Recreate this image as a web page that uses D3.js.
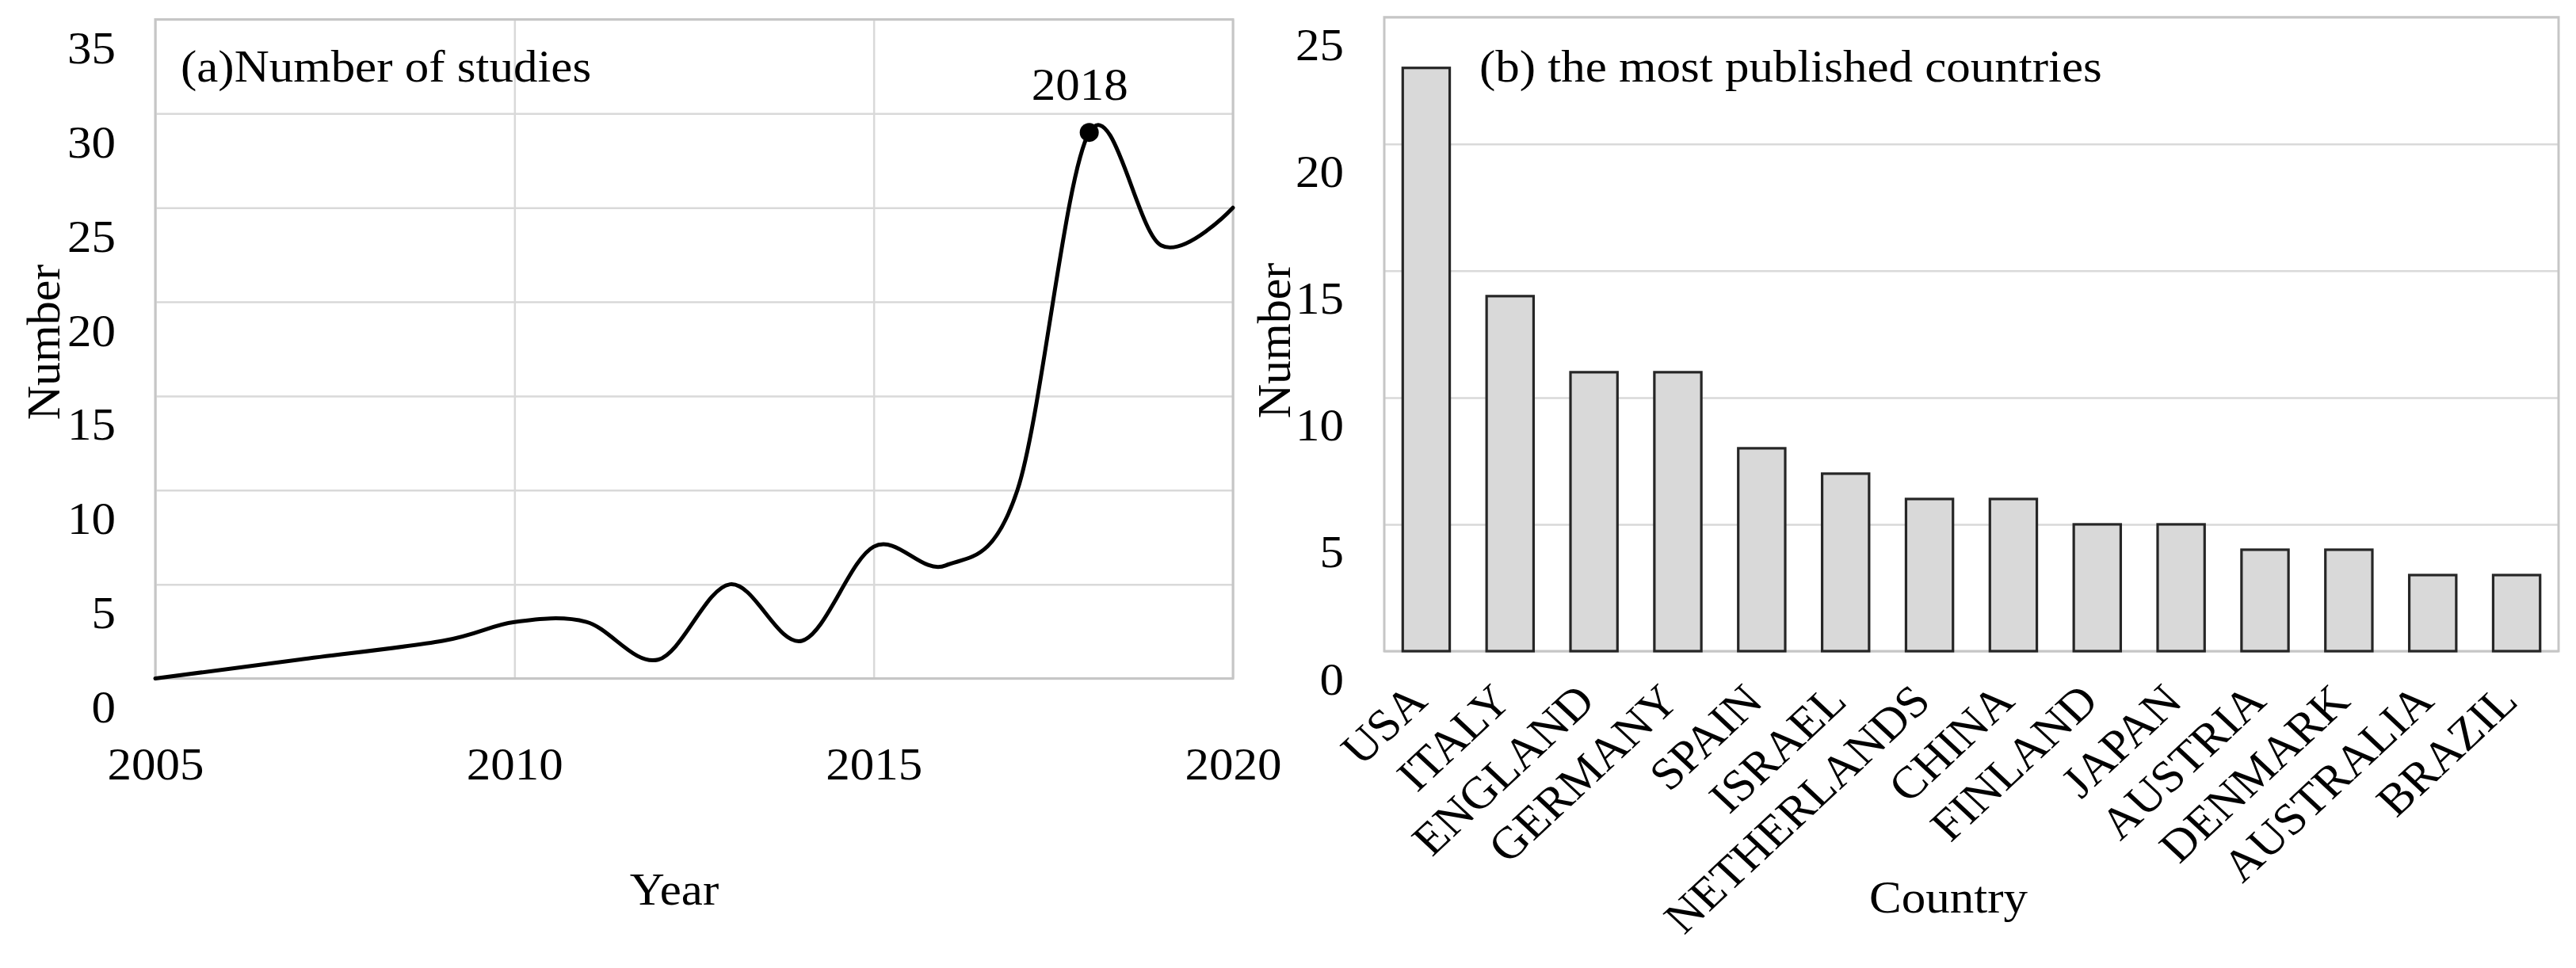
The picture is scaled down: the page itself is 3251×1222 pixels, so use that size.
<!DOCTYPE html>
<html>
<head>
<meta charset="utf-8">
<script src="https://cdn.jsdelivr.net/npm/d3@7"></script>
<style>
  html, body { margin: 0; padding: 0; background: #fff; }
  svg { display: block; }
  text { font-family: "Liberation Serif", "Times New Roman", serif; fill: #000; }
</style>
</head>
<body>
<svg id="chart" width="3251" height="1222"></svg>
<script>
// ---------- data ----------
const years   = [2005, 2007, 2009, 2010, 2011, 2012, 2013, 2014, 2015, 2016, 2017, 2018, 2019, 2020];
const studies = [0, 1, 2, 3, 3, 1, 5, 2, 7, 6, 10, 29, 23, 25];
const yearTicks = [2005, 2010, 2015, 2020];
const studyTicks = [0, 5, 10, 15, 20, 25, 30, 35];

const countries = ["USA", "ITALY", "ENGLAND", "GERMANY", "SPAIN", "ISRAEL", "NETHERLANDS",
                   "CHINA", "FINLAND", "JAPAN", "AUSTRIA", "DENMARK", "AUSTRALIA", "BRAZIL"];
const countryCounts = [23, 14, 11, 11, 8, 7, 6, 6, 5, 5, 4, 4, 3, 3];
const countTicks = [0, 5, 10, 15, 20, 25];

// ---------- setup ----------
const svg = d3.select("#chart");
svg.append("rect").attr("width", 3251).attr("height", 1222).attr("fill", "#fff");

const SX = 1.07;           // horizontal text stretch of the original
const FS = 57;             // base font size
const gridColor = "#d9d9d9";
const borderColor = "#c6c6c6";

function styleAxis(g) {
  g.select(".domain").remove();
  g.selectAll(".tick line").attr("stroke", gridColor).attr("stroke-width", 2.5);
  g.selectAll(".tick text").attr("font-size", FS).attr("fill", "#000");
}

// ================= (a) line chart =================
const A = {left: 196, right: 1556, top: 24.5, bottom: 856.5};
const xA = d3.scaleLinear().domain([2005, 2020]).range([A.left, A.right]);
const yA = d3.scaleLinear().domain([0, 35]).range([A.bottom, A.top]);

const gA = svg.append("g");

const yAxisA = gA.append("g")
  .attr("transform", `translate(${A.left},0)`)
  .call(d3.axisLeft(yA).tickValues(studyTicks).tickSize(-(A.right - A.left)).tickFormat(d3.format("d")));
styleAxis(yAxisA);
yAxisA.selectAll(".tick text")
  .attr("x", 0).attr("dy", null)
  .attr("text-anchor", "end")
  .attr("transform", `translate(-50,55) scale(${SX},1)`);

const xAxisA = gA.append("g")
  .attr("transform", `translate(0,${A.bottom})`)
  .call(d3.axisBottom(xA).tickValues(yearTicks).tickSize(-(A.bottom - A.top)).tickFormat(d3.format("d")));
styleAxis(xAxisA);
xAxisA.selectAll(".tick text")
  .attr("y", 0).attr("dy", null)
  .attr("text-anchor", "middle")
  .attr("transform", `translate(0,127.5) scale(${SX},1)`);

gA.append("rect")
  .attr("x", A.left).attr("y", A.top)
  .attr("width", A.right - A.left).attr("height", A.bottom - A.top)
  .attr("fill", "none").attr("stroke", borderColor).attr("stroke-width", 3);

const ptsA = years.map((yr, i) => ({year: yr, value: studies[i]}));
const line = d3.line()
  .x(d => xA(d.year)).y(d => yA(d.value))
  .curve(d3.curveCardinal.tension(0));
gA.append("path")
  .datum(ptsA)
  .attr("d", line)
  .attr("fill", "none").attr("stroke", "#000").attr("stroke-width", 5)
  .attr("stroke-linejoin", "round").attr("stroke-linecap", "round");

const maxPt = ptsA.reduce((a, b) => (b.value > a.value ? b : a));
gA.append("circle")
  .attr("cx", xA(maxPt.year)).attr("cy", yA(maxPt.value)).attr("r", 12).attr("fill", "#000");
gA.append("text")
  .attr("text-anchor", "middle").attr("font-size", FS)
  .attr("transform", `translate(${xA(maxPt.year) - 12},${yA(maxPt.value) - 41}) scale(${SX},1)`)
  .text(String(maxPt.year));

gA.append("text").attr("font-size", FS)
  .attr("transform", `translate(228,103) scale(${SX},1)`)
  .text("(a)Number of studies");
gA.append("text").attr("font-size", FS).attr("text-anchor", "middle")
  .attr("transform", `translate(851,1142) scale(${SX},1)`)
  .text("Year");
gA.append("text").attr("font-size", 60).attr("text-anchor", "middle")
  .attr("transform", "translate(75,432) rotate(-90)")
  .text("Number");

// ================= (b) bar chart =================
const B = {left: 1747, right: 3229, top: 21.7, bottom: 822};
const xB = d3.scaleBand().domain(countries).range([B.left, B.right]).paddingInner(0.44).paddingOuter(0.22);
const yB = d3.scaleLinear().domain([0, 25]).range([B.bottom, B.top]);

const gB = svg.append("g");

const yAxisB = gB.append("g")
  .attr("transform", `translate(${B.left},0)`)
  .call(d3.axisLeft(yB).tickValues(countTicks).tickSize(-(B.right - B.left)).tickFormat(d3.format("d")));
styleAxis(yAxisB);
yAxisB.selectAll(".tick text")
  .attr("x", 0).attr("dy", null)
  .attr("text-anchor", "end")
  .attr("transform", `translate(-51,54) scale(${SX},1)`);

gB.append("rect")
  .attr("x", B.left).attr("y", B.top)
  .attr("width", B.right - B.left).attr("height", B.bottom - B.top)
  .attr("fill", "none").attr("stroke", borderColor).attr("stroke-width", 3);

const barData = countries.map((c, i) => ({country: c, value: countryCounts[i]}));
gB.selectAll("rect.bar")
  .data(barData)
  .join("rect")
  .attr("class", "bar")
  .attr("x", d => xB(d.country))
  .attr("y", d => yB(d.value))
  .attr("width", xB.bandwidth())
  .attr("height", d => B.bottom - yB(d.value))
  .attr("fill", "#d9d9d9")
  .attr("stroke", "#262626")
  .attr("stroke-width", 3.2);

const xAxisB = gB.append("g")
  .attr("transform", `translate(0,${B.bottom})`)
  .call(d3.axisBottom(xB).tickSize(0));
xAxisB.select(".domain").remove();
xAxisB.selectAll(".tick text")
  .attr("font-size", FS).attr("fill", "#000")
  .attr("x", 0).attr("y", 0).attr("dy", null)
  .attr("text-anchor", "end")
  .attr("transform", `translate(4,66) scale(${SX},1) rotate(-45)`);

gB.append("text").attr("font-size", FS).attr("text-anchor", "middle")
  .attr("transform", `translate(2459,1152) scale(${SX},1)`)
  .text("Country");
gB.append("text").attr("font-size", 60).attr("text-anchor", "middle")
  .attr("transform", "translate(1628,430) rotate(-90)")
  .text("Number");
gB.append("text").attr("font-size", FS)
  .attr("transform", `translate(1867,103) scale(${SX},1)`)
  .text("(b) the most published countries");
</script>
</body>
</html>
